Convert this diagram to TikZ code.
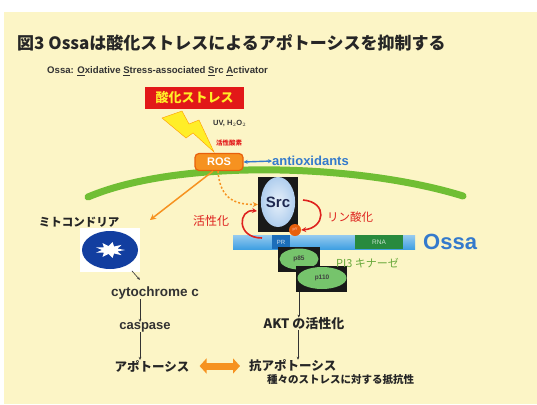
\documentclass[tikz,border=0pt]{standalone}
\usepackage{fontspec}
\setmainfont{Liberation Sans}
\newfontfamily\jp{Noto Sans CJK JP}
\usepackage{tikz}
\usetikzlibrary{arrows.meta,shapes.geometric}

\definecolor{bgyellow}{RGB}{252,245,198}
\definecolor{stressred}{RGB}{226,24,24}
\definecolor{boltyellow}{RGB}{255,238,40}
\definecolor{membgreen}{RGB}{112,190,52}
\definecolor{rosorange}{RGB}{246,146,32}
\definecolor{rosedge}{RGB}{232,96,12}
\definecolor{antiblue}{RGB}{52,122,204}
\definecolor{srcblue}{RGB}{176,206,238}
\definecolor{srcnavy}{RGB}{30,40,80}
\definecolor{barblue}{RGB}{64,160,226}
\definecolor{bardark}{RGB}{28,110,186}
\definecolor{rnagreen}{RGB}{40,138,62}
\definecolor{pigreen}{RGB}{118,196,108}
\definecolor{pitext}{RGB}{104,168,58}
\definecolor{mitoblue}{RGB}{18,62,160}
\definecolor{arcred}{RGB}{222,34,30}

\tikzset{
  jptext/.style={font=\jp\bfseries, inner sep=0pt, text=black!85},
  entext/.style={font=\bfseries, inner sep=0pt, text=black!80},
  smallarrow/.style={-{Stealth[length=3pt,width=2.6pt]}, line width=0.6pt, black!80},
  redarc/.style={-{Stealth[length=5pt,width=5pt]}, line width=1.6pt, arcred},
  blackbox/.style={fill=black!90, inner sep=0pt},
  subunit/.style={ellipse, fill=pigreen, inner sep=0pt, text=black!75,
    font=\bfseries\fontsize{6.5}{7}\selectfont},
}

\begin{document}
\begin{tikzpicture}[x=1pt, y=-1pt]
  \useasboundingbox (0,0) rectangle (537,404);
  \fill[white] (0,0) rectangle (537,404);
  \fill[bgyellow] (4,12) rectangle (537,404);

  % Heading
  \node[jptext, anchor=west, font=\jp\bfseries\fontsize{17}{19}\selectfont] (title) at (17,43)
    {図3 Ossaは酸化ストレスによるアポトーシスを抑制する};
  \node[entext, anchor=west, font=\bfseries\fontsize{9.6}{11}\selectfont] (subtitle) at (47,71)
    {Ossa: \underline{O}xidative \underline{S}tress-associated \underline{S}rc \underline{A}ctivator};

  % Cell membrane
  \draw[membgreen, line width=7pt, line cap=round] (88,197) .. controls (180,158) and (360,164) .. (463,196);

  % Oxidative stress and ROS
  \node[fill=stressred, minimum width=99pt, minimum height=22pt, inner sep=0pt,
    text=boltyellow, font=\jp\bfseries\fontsize{13}{14}\selectfont] (stress) at (194.5,98) {酸化ストレス};
  \fill[boltyellow, draw=orange!80!yellow, line width=0.4pt]
    (162,118) -- (182,111) -- (189,124) -- (199,120) -- (214,152) -- (193,133) -- (186,138) -- cycle;
  \node[entext, anchor=west, font=\bfseries\fontsize{7.5}{8}\selectfont] (uv) at (213,123) {UV, H$_2$O$_2$};
  \node[jptext, text=stressred, font=\jp\bfseries\fontsize{6.5}{7}\selectfont] (kassei) at (229,143) {活性酸素};
  \node[rounded corners=4pt, fill=rosorange, draw=rosedge, line width=1.2pt,
    minimum width=48pt, minimum height=17pt, inner sep=0pt, text=white,
    font=\bfseries\fontsize{11}{12}\selectfont] (ros) at (219,162) {ROS};
  \node[anchor=west, inner sep=0pt, text=antiblue, font=\bfseries\fontsize{13}{14}\selectfont] (antiox) at (272,161) {antioxidants};
  \draw[{Stealth[length=4pt,width=4pt]}-{Stealth[length=4pt,width=4pt]}, antiblue, line width=1.4pt]
    (ros.east) -- (antiox.west);

  % Ossa bar with its domains
  \node[inner sep=0pt, minimum width=182pt, minimum height=14pt, top color=barblue!55,
    bottom color=barblue] (ossabar) at (324,242) {};
  \node[inner sep=0pt, minimum width=18pt, minimum height=14pt, fill=bardark, text=white!80!bardark,
    font=\fontsize{6}{6}\selectfont] (prdom) at (281,242) {PR};
  \node[inner sep=0pt, minimum width=48pt, minimum height=14pt, fill=rnagreen, text=white!75!rnagreen,
    font=\fontsize{6.5}{7}\selectfont] (rnadom) at (379,242) {RNA};
  \node[anchor=west, inner sep=0pt, text=antiblue, font=\bfseries\fontsize{22}{24}\selectfont] (ossa) at (423,242) {Ossa};

  % Src
  \node[blackbox, minimum width=40pt, minimum height=55pt] (srcbox) at (278,204.5) {};
  \node[ellipse, minimum width=34pt, minimum height=50pt, inner sep=0pt, inner color=white!70!srcblue,
    outer color=srcblue, text=srcnavy, font=\bfseries\fontsize{15}{16}\selectfont] (src) at (278,202) {Src};
  \node[circle, fill=rosedge, minimum size=12pt, inner sep=0pt, text=white!80!red,
    font=\fontsize{4}{4}\selectfont] (py) at (295,230) {pY};
  \draw[redarc] ([shift={(-16,36)}]src.center) .. controls +(-26,0) and +(-19,-2) .. ([shift={(-21,9)}]src.center);
  \draw[redarc] ([shift={(25,-2)}]src.center) .. controls +(25,2) and +(24,-2) .. (py.east);
  \node[jptext, text=arcred, font=\jp\fontsize{12}{13}\selectfont] (activ) at (211,221) {活性化};
  \node[jptext, text=arcred, font=\jp\fontsize{11.5}{12}\selectfont] (phos) at (350,217) {リン酸化};

  % ROS effects
  \coordinate (rosend) at (150,220);
  \draw[-{Stealth[length=6pt,width=6pt]}, rosorange, line width=1.5pt] ([xshift=-6pt]ros.south) -- (rosend);
  \draw[-{Stealth[length=5pt,width=5pt]}, rosorange, line width=1.5pt, dash pattern=on 2pt off 2pt]
    ([xshift=-1pt]ros.south) .. controls +(2,30) and +(-20,0) .. (srcbox.west);

  % PI3 kinase
  \node[blackbox, minimum width=42pt, minimum height=25pt] (p85box) at (299,259.5) {};
  \node[subunit, minimum width=39pt, minimum height=21pt] (p85) at (299,259) {p85};
  \node[blackbox, minimum width=51pt, minimum height=26pt] (p110box) at (321.5,279) {};
  \node[subunit, minimum width=49pt, minimum height=22pt] (p110) at (322,278) {p110};
  \node[anchor=west, inner sep=0pt, text=pitext, font=\jp\fontsize{11}{12}\selectfont] (pi3) at (336,263) {PI3 キナーゼ};

  % Survival branch
  \node[jptext, font=\jp\bfseries\fontsize{13}{14}\selectfont] (akt) at (304,324) {AKT の活性化};
  \node[jptext, anchor=west, font=\jp\bfseries\fontsize{12.5}{14}\selectfont] (anti) at (249,366) {抗アポトーシス};
  \node[jptext, anchor=west, font=\jp\bfseries\fontsize{10.5}{12}\selectfont] (resist) at (267,379) {種々のストレスに対する抵抗性};
  \draw[smallarrow] ([xshift=3pt]p110box.south west) -- ([xshift=3pt]p110box.south west |- akt.north);
  \draw[smallarrow] ([xshift=-6pt]akt.south) -- ([xshift=-6pt]akt.south |- anti.north);

  % Mitochondrion and apoptosis branch
  \node[jptext, font=\jp\bfseries\fontsize{11.5}{12}\selectfont] (mitolabel) at (79,222) {ミトコンドリア};
  \fill[white] (80,228) rectangle (140,272);
  \node[ellipse, fill=mitoblue, minimum width=56pt, minimum height=38pt, inner sep=0pt] (mito) at (110,250) {};
  \fill[white, shift={(110,250)}] (0:15 and 8)
    \foreach \a in {1,...,17} { -- ({\a*20}:{ifthenelse(mod(\a,2)==0,15,8)} and {ifthenelse(mod(\a,2)==0,8,4)}) } -- cycle;
  \node[entext, font=\bfseries\fontsize{13.5}{14}\selectfont] (cyto) at (155,293) {cytochrome c};
  \node[entext, font=\bfseries\fontsize{13}{14}\selectfont] (casp) at (145,327) {caspase};
  \node[jptext, font=\jp\bfseries\fontsize{12.5}{14}\selectfont] (apop) at (152,366) {アポトーシス};
  \draw[smallarrow] ([shift={(6,5)}]mito.-45) -- +(8,9);
  \draw[smallarrow] ([xshift=-5pt]casp.north |- cyto.south) -- ([xshift=-5pt]casp.north);
  \draw[smallarrow] ([xshift=-5pt]casp.south) -- ([xshift=-5pt]casp.south |- apop.north);

  % Balance between the two outcomes
  \draw[{Triangle[length=7pt,width=15pt]}-{Triangle[length=7pt,width=15pt]}, rosorange, line width=7pt,
    shorten <=10pt, shorten >=9pt] (apop.east) -- (anti.west);
\end{tikzpicture}
\end{document}
